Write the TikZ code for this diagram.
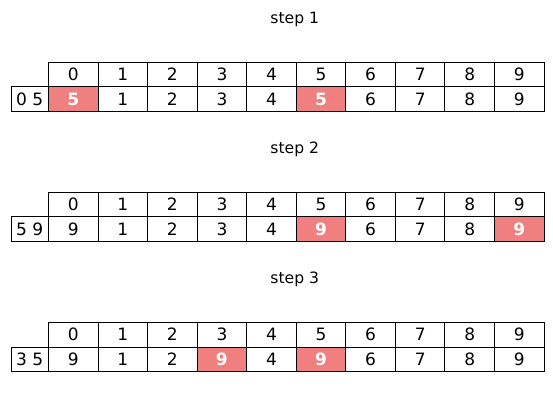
\documentclass[tikz,border=0pt]{standalone}
\usepackage{fontspec}
\setmainfont{DejaVu Sans}
\definecolor{hl}{RGB}{240,128,128}
\begin{document}
\begin{tikzpicture}[x=1pt,y=-1pt,
  cellbox/.style={draw=black,line width=0.9pt,minimum width=49.56pt,minimum height=24.5pt,inner sep=0pt,text height=12.4pt,text depth=0pt,anchor=north west,font=\fontsize{17}{18}\selectfont},
  leftbox/.style={cellbox,minimum width=37.5pt},
  hlbox/.style={cellbox,fill=hl,text=white,font=\fontsize{17}{18}\selectfont\bfseries},
  titletext/.style={font=\fontsize{15.6}{17}\selectfont,anchor=base}]
\useasboundingbox (0,0) rectangle (553,411);
\foreach \k/\vals/\reds/\lab in {1/{5,1,2,3,4,5,6,7,8,9}/{0,5}/{0 5},
                                 2/{9,1,2,3,4,9,6,7,8,9}/{5,9}/{5 9},
                                 3/{9,1,2,9,4,9,6,7,8,9}/{3,5}/{3 5}}{
  \pgfmathsetmacro{\yo}{62+130*(\k-1)}
  \pgfmathsetmacro{\yt}{23.5+130*(\k-1)}
  \node[titletext] (t\k) at (294.8,\yt) {step \k};
  \node[leftbox] (l\k) at (10.5,\yo+24.5) {\lab};
  \foreach \v [count=\i from 0] in \vals {
    \node[cellbox] (h\k-\i) at (48+49.56*\i,\yo) {\i};
    \def\isred{0}
    \foreach \r in \reds {\ifnum\r=\i\relax\xdef\isred{1}\fi}
    \ifnum\isred=1\relax
      \node[hlbox] (d\k-\i) at (48+49.56*\i,\yo+24.5) {\v};
    \else
      \node[cellbox] (d\k-\i) at (48+49.56*\i,\yo+24.5) {\v};
    \fi
  }
}
\end{tikzpicture}
\end{document}
